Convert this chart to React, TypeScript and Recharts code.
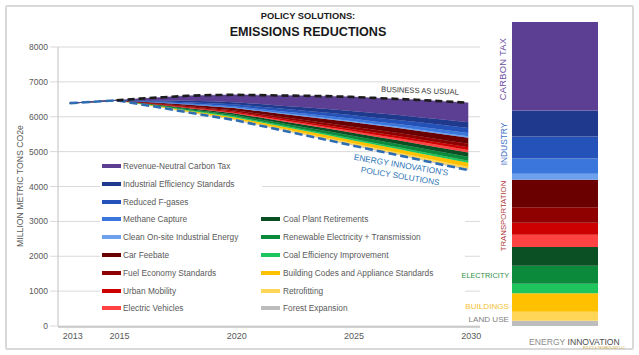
import React from 'react';
import { ComposedChart, Area, Line, XAxis, YAxis, CartesianGrid, BarChart, Bar } from 'recharts';

// ---------- DATA ----------
const years = [2013, 2014, 2015, 2016, 2017, 2018, 2019, 2020, 2021, 2022, 2023, 2024, 2025, 2026, 2027, 2028, 2029, 2030];
const yTicks = [0, 1000, 2000, 3000, 4000, 5000, 6000, 7000, 8000];
const xLabelYears = [2013, 2015, 2020, 2025, 2030];

const businessAsUsual = [null, null, 6470, 6520, 6560, 6600, 6620, 6630, 6620, 6610, 6600, 6590, 6570, 6540, 6510, 6480, 6440, 6400];
const policySolutions = [6390, 6430, 6470, 6360, 6250, 6130, 6020, 5910, 5765, 5620, 5475, 5330, 5185, 5040, 4900, 4755, 4610, 4470];

const carbonTax = [0, 0, 0, 48, 93, 141, 179, 211, 250, 291, 328, 367, 403, 436, 463, 498, 529, 560];
const industrialEfficiency = [0, 0, 0, 14, 27, 41, 52, 63, 75, 86, 98, 110, 120, 130, 139, 149, 158, 166];
const reducedFGases = [0, 0, 0, 12, 23, 35, 44, 53, 63, 72, 82, 92, 100, 108, 116, 124, 132, 139];
const methaneCapture = [0, 0, 0, 9, 17, 25, 32, 38, 45, 52, 59, 65, 71, 76, 82, 87, 92, 97];
const cleanOnsite = [0, 0, 0, 3, 6, 9, 12, 15, 17, 20, 23, 26, 28, 30, 33, 35, 37, 39];
const carFeebate = [0, 0, 0, 14, 28, 43, 55, 66, 78, 90, 102, 114, 126, 136, 146, 156, 165, 174];
const fuelEconomy = [0, 0, 0, 8, 16, 24, 31, 37, 44, 51, 58, 65, 71, 77, 83, 89, 94, 98];
const urbanMobility = [0, 0, 0, 6, 12, 19, 24, 29, 35, 40, 46, 51, 56, 61, 65, 69, 73, 77];
const electricVehicles = [0, 0, 0, 3, 6, 10, 14, 18, 23, 28, 34, 40, 46, 53, 60, 66, 72, 77];
const coalPlantRetirements = [0, 0, 0, 10, 19, 29, 37, 45, 54, 62, 71, 79, 87, 94, 101, 108, 114, 120];
const renewableElectricity = [0, 0, 0, 9, 18, 27, 35, 42, 50, 58, 66, 74, 82, 89, 96, 103, 109, 114];
const coalEfficiency = [0, 0, 0, 6, 11, 16, 20, 24, 28, 32, 36, 40, 44, 47, 51, 54, 57, 60];
const buildingCodes = [0, 0, 0, 10, 19, 29, 37, 45, 53, 61, 69, 78, 85, 92, 99, 106, 112, 118];
const retrofitting = [0, 0, 0, 5, 10, 14, 18, 22, 26, 30, 34, 38, 42, 45, 48, 52, 55, 58];
const forestExpansion = [0, 0, 0, 3, 5, 8, 10, 12, 14, 17, 19, 21, 24, 26, 28, 29, 31, 33];

// share of 2030 reductions (%) for the right-hand bar
const share2030 = {
  ct: 29.1, ie: 8.6, fg: 7.2, mc: 5.0, co: 2.0, cf: 9.0, fe: 5.1, um: 4.0, ev: 4.0,
  cp: 6.2, re: 5.9, ce: 3.1, bc: 6.1, rf: 3.0, fx: 1.7,
};

// ---------- SERIES CONFIG (bottom of stack first) ----------
const series = [
  { key: 'fx', name: 'Forest Expansion', values: forestExpansion, color: '#bdbdbd' },
  { key: 'rf', name: 'Retrofitting', values: retrofitting, color: '#ffd658' },
  { key: 'bc', name: 'Building Codes and Appliance Standards', values: buildingCodes, color: '#ffc000' },
  { key: 'ce', name: 'Coal Efficiency Improvement', values: coalEfficiency, color: '#1ec45c' },
  { key: 're', name: 'Renewable Electricity + Transmission', values: renewableElectricity, color: '#0c8a3c' },
  { key: 'cp', name: 'Coal Plant Retirements', values: coalPlantRetirements, color: '#0b4f24' },
  { key: 'ev', name: 'Electric Vehicles', values: electricVehicles, color: '#ff4242' },
  { key: 'um', name: 'Urban Mobility', values: urbanMobility, color: '#cc0000' },
  { key: 'fe', name: 'Fuel Economy Standards', values: fuelEconomy, color: '#8f0000' },
  { key: 'cf', name: 'Car Feebate', values: carFeebate, color: '#6a0000' },
  { key: 'co', name: 'Clean On-site Industrial Energy', values: cleanOnsite, color: '#6da1ee' },
  { key: 'mc', name: 'Methane Capture', values: methaneCapture, color: '#3a76dc' },
  { key: 'fg', name: 'Reduced F-gases', values: reducedFGases, color: '#2452b8' },
  { key: 'ie', name: 'Industrial Efficiency Standards', values: industrialEfficiency, color: '#1f3a8c' },
  { key: 'ct', name: 'Revenue-Neutral Carbon Tax', values: carbonTax, color: '#5c3f93' },
];

const legendLeft = ['ct', 'ie', 'fg', 'mc', 'co', 'cf', 'fe', 'um', 'ev'];
const legendRight = ['cp', 're', 'ce', 'bc', 'rf', 'fx'];

const data = years.map((year, i) => {
  const row: any = { year, bau: businessAsUsual[i], policy: policySolutions[i] };
  series.forEach((s) => { row[s.key] = s.values[i]; });
  return row;
});

const barRow: any = { name: '2030' };
series.forEach((s) => { barRow[s.key] = (share2030 as any)[s.key]; });
const barData = [barRow];

const boundaryTicks = [years[0] - 0.5, ...years.map((y) => y + 0.5)];

const FONT = '"Liberation Sans", Arial, sans-serif';
const byKey = (k: string) => series.find((s) => s.key === k)!;

const PctTick = (props: any) => {
  if (props.payload && props.payload.value === 100) {
    return (
      <text x={props.x - 8} y={props.y - 3} fontSize={8.5} fill="#808080" fontFamily={FONT}>100%</text>
    );
  }
  return <g />;
};

const abs = (style: React.CSSProperties): React.CSSProperties => ({ position: 'absolute', whiteSpace: 'nowrap', lineHeight: 1, fontFamily: FONT, ...style });

export default function App() {
  const rowY = (i: number) => 166 + i * 17.8;
  return (
    <div style={{ position: 'absolute', left: 0, top: 0, width: 639, height: 355, background: '#fff', overflow: 'hidden' }}>
      <div style={{ position: 'absolute', left: 5, top: 5, width: 625, height: 341, border: '2px solid #d9d9d9', borderRadius: 2 }} />

      <div style={{ position: 'absolute', left: 0, top: 0 }}>
        <ComposedChart width={639} height={355} data={data} margin={{ top: 47, right: 159, bottom: 27, left: 18 }}>
          <CartesianGrid horizontal vertical={false} stroke="#d9d9d9" />
          <XAxis
            type="number" dataKey="year" domain={[2012.5, 2030.5]} ticks={xLabelYears} interval={0}
            tickLine={false} axisLine={false} tickSize={5} tickMargin={2} height={1}
            tick={{ fontSize: 9, fill: '#595959', fontFamily: FONT, dx: 3 }} allowDataOverflow
          />
          <XAxis
            xAxisId="t" type="number" dataKey="year" domain={[2012.5, 2030.5]} ticks={boundaryTicks} interval={0}
            tick={false} tickSize={4} tickLine={{ stroke: '#a6a6a6' }} axisLine={{ stroke: '#a6a6a6' }} height={1} allowDataOverflow
          />
          <YAxis
            domain={[0, 8000]} ticks={yTicks} interval={0} width={40} tickSize={8} tickMargin={2}
            tickLine={{ stroke: '#d9d9d9' }} axisLine={{ stroke: '#bfbfbf' }}
            tick={{ fontSize: 8.5, fill: '#595959', fontFamily: FONT }}
          />
          <Area dataKey="policy" stackId="s" fill="none" stroke="none" isAnimationActive={false} legendType="none" activeDot={false} />
          {series.map((s) => (
            <Area key={s.key} dataKey={s.key} name={s.name} stackId="s" type="linear"
              fill={s.color} fillOpacity={1} stroke={s.color} strokeWidth={0.4} isAnimationActive={false} activeDot={false} />
          ))}
          <Line dataKey="policy" type="linear" stroke="#2f6db3" strokeWidth={2.6} strokeDasharray="8 4" dot={false} isAnimationActive={false} activeDot={false} />
          <Line dataKey="bau" type="linear" stroke="#1c1c1c" strokeWidth={2.6} strokeDasharray="7 4" dot={false} isAnimationActive={false} activeDot={false} />
        </ComposedChart>
      </div>

      <div style={{ position: 'absolute', left: 0, top: 0 }}>
        <BarChart width={639} height={355} data={barData} margin={{ top: 22, right: 26, bottom: 29, left: 497 }} barCategoryGap={0}>
          <XAxis dataKey="name" hide />
          <YAxis yAxisId="l" domain={[0, 100]} ticks={[0, 100]} interval={0} width={15} tickSize={15} tick={false}
            axisLine={false} tickLine={{ stroke: '#bfbfbf' }} />
          <YAxis yAxisId="r" orientation="right" domain={[0, 100]} ticks={[0, 20, 40, 60, 80, 100]} interval={0} width={15}
            tickSize={15} tickMargin={2} axisLine={false} tickLine={{ stroke: '#bfbfbf' }} tick={<PctTick />} />
          {series.map((s) => (
            <Bar key={s.key} yAxisId="l" dataKey={s.key} stackId="b" fill={s.color} isAnimationActive={false} />
          ))}
        </BarChart>
      </div>

      {/* legend backgrounds */}
      <div style={{ position: 'absolute', left: 100, top: 157, width: 162, height: 160, background: '#fff' }} />
      <div style={{ position: 'absolute', left: 258, top: 211, width: 207, height: 106, background: '#fff' }} />

      {legendLeft.map((k, i) => {
        const s = byKey(k);
        const y = rowY(i);
        return (
          <React.Fragment key={k}>
            <div style={{ position: 'absolute', left: 102, top: y - 2, width: 19, height: 4, background: s.color }} />
            <div style={abs({ left: 123, top: y, transform: 'translateY(-50%)', fontSize: 8.3, color: '#595959' })}>{s.name}</div>
          </React.Fragment>
        );
      })}
      {legendRight.map((k, i) => {
        const s = byKey(k);
        const y = rowY(i + 3);
        return (
          <React.Fragment key={k}>
            <div style={{ position: 'absolute', left: 261, top: y - 2, width: 19, height: 4, background: s.color }} />
            <div style={abs({ left: 283, top: y, transform: 'translateY(-50%)', fontSize: 8.3, color: '#595959' })}>{s.name}</div>
          </React.Fragment>
        );
      })}

      {/* titles */}
      <div style={abs({ left: 308, top: 17, transform: 'translate(-50%,-50%)', fontSize: 9.3, fontWeight: 700, color: '#1a1a1a' })}>POLICY SOLUTIONS:</div>
      <div style={abs({ left: 308, top: 32, transform: 'translate(-50%,-50%)', fontSize: 12.6, fontWeight: 700, color: '#1a1a1a' })}>EMISSIONS REDUCTIONS</div>

      {/* y axis title */}
      <div style={abs({ left: 20, top: 186, transform: 'translate(-50%,-50%) rotate(-90deg)', fontSize: 8.7, color: '#595959' })}>MILLION METRIC TONS CO2e</div>

      {/* annotations */}
      <div style={abs({ left: 420, top: 91, transform: 'translate(-50%,-50%) rotate(2deg)', fontSize: 7.6, color: '#333' })}>BUSINESS AS USUAL</div>
      <div style={abs({ left: 401, top: 165, transform: 'translate(-50%,-50%) rotate(9.5deg)', fontSize: 8.4, color: '#2e75b6' })}>ENERGY INNOVATION'S</div>
      <div style={abs({ left: 400, top: 176.5, transform: 'translate(-50%,-50%) rotate(9.5deg)', fontSize: 8.2, color: '#2e75b6' })}>POLICY SOLUTIONS</div>

      {/* sector labels */}
      <div style={abs({ left: 504, top: 68.5, transform: 'translate(-50%,-50%) rotate(-90deg)', fontSize: 9.3, letterSpacing: 0.3, color: '#6b4fa3' })}>CARBON TAX</div>
      <div style={abs({ left: 504, top: 143.5, transform: 'translate(-50%,-50%) rotate(-90deg)', fontSize: 8.4, color: '#3d6fc6' })}>INDUSTRY</div>
      <div style={abs({ left: 503.5, top: 216, transform: 'translate(-50%,-50%) rotate(-90deg)', fontSize: 7.8, color: '#b23a3a' })}>TRANSPORTATION</div>
      <div style={abs({ right: 130, top: 276, transform: 'translateY(-50%)', fontSize: 7.3, color: '#2f8f45' })}>ELECTRICITY</div>
      <div style={abs({ right: 130, top: 307, transform: 'translateY(-50%)', fontSize: 8.1, color: '#f2c12e' })}>BUILDINGS</div>
      <div style={abs({ right: 130, top: 320, transform: 'translateY(-50%)', fontSize: 8.1, color: '#7f7f7f' })}>LAND USE</div>

      {/* logo text */}
      <div style={abs({ left: 529, top: 341.5, transform: 'translateY(-50%)', fontSize: 8.6, color: '#8c8c8c' })}>
        ENERGY <span style={{ color: '#4d4d4d' }}>INNOVATION</span>
      </div>
      <div style={abs({ left: 583, top: 347.5, transform: 'translateY(-50%)', fontSize: 3, color: '#c9a227' })}>POLICY &amp; TECHNOLOGY LLC</div>
    </div>
  );
}
